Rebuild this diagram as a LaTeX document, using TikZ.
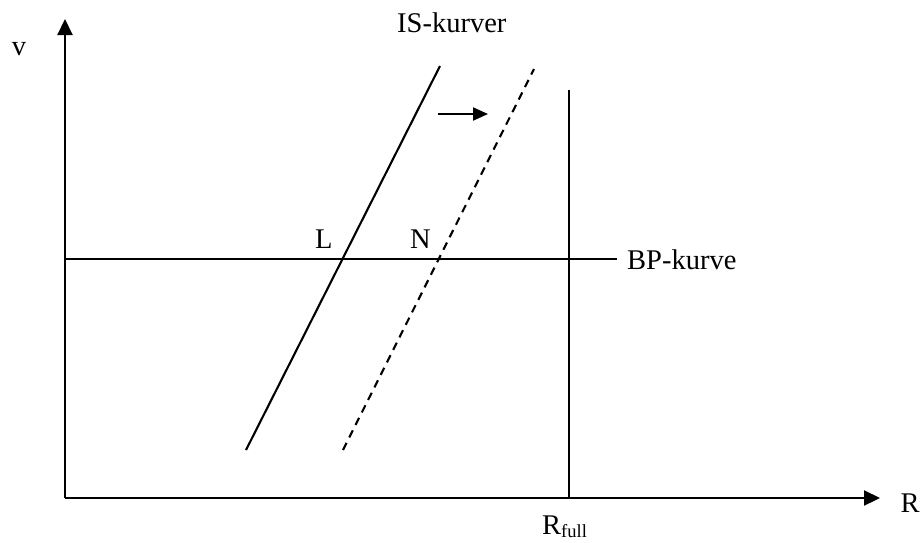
\documentclass[tikz,border=0pt]{standalone}
\usepackage{fontspec}
\setmainfont{Liberation Serif}
\usetikzlibrary{arrows.meta}
\begin{document}
\begin{tikzpicture}[x=1pt,y=-1pt,
  axis/.style={line width=2.2pt,-{Triangle[length=16pt,width=15pt]}},
  curve/.style={line width=2.1pt},
  dashcurve/.style={line width=2.1pt,dash pattern=on 8pt off 6pt},
  lbl/.style={inner sep=0pt,font=\fontsize{28.5}{32}\selectfont}]
\useasboundingbox (0,0) rectangle (922,542);
\coordinate (O) at (65,498);
\coordinate (ytop) at (65,19);
\coordinate (xend) at (880,498);
\draw[axis] (O) -- (ytop);
\draw[axis] (O) -- (xend);
% BP curve
\coordinate (bp1) at (65,259);
\coordinate (bp2) at (617,259);
\draw[curve] (bp1) -- (bp2);
% full employment line
\coordinate (rf1) at (569,90);
\coordinate (rf2) at (569,498);
\draw[curve] (rf1) -- (rf2);
% IS curves
\coordinate (is1a) at (246,450);
\coordinate (is1b) at (440,66);
\draw[curve] (is1a) -- (is1b);
\coordinate (is2a) at (343,450);
\coordinate (is2b) at (534,69);
\draw[dashcurve] (is2a) -- (is2b);
% shift arrow
\coordinate (sa1) at (438,114);
\coordinate (sa2) at (488,114);
\draw[line width=2.2pt,-{Triangle[length=15pt,width=13pt]}] (sa1) -- (sa2);
% labels
\node[lbl,anchor=base] (vlab) at (19,55) {v};
\node[lbl,anchor=base] (Rlab) at (910,512) {R};
\node[lbl,anchor=base west] (islab) at (397,32) {IS-kurver};
\node[lbl,anchor=base west] (bplab) at (627,269) {BP-kurve};
\node[lbl,anchor=base west] (Llab) at (315,248) {L};
\node[lbl,anchor=base west] (Nlab) at (410,248) {N};
\node[lbl,anchor=base west] (rflab) at (542,534) {R\raisebox{-3pt}{\fontsize{18.5}{20}\selectfont full}};
\end{tikzpicture}
\end{document}
